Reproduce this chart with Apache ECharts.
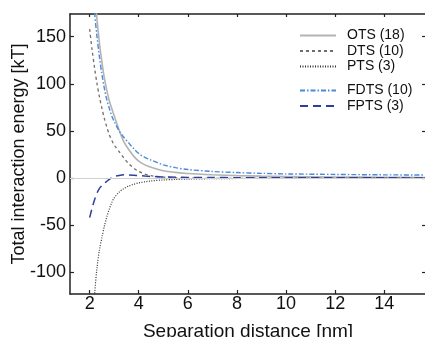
<!DOCTYPE html>
<html>
<head>
<meta charset="utf-8">
<script src="https://cdn.jsdelivr.net/npm/echarts@6/dist/echarts.min.js"></script>
<style>html,body{margin:0;padding:0;background:#fff}#c{width:425px;height:337px}</style>
</head>
<body>
<div id="c"></div>
<script>
var xs   = [2.0, 2.1, 2.2, 2.3, 2.4, 2.5, 2.6, 2.7, 2.8, 2.9, 3.0, 3.2, 3.4, 3.6, 3.8, 4.0, 4.25, 4.5, 5.0, 5.5, 6.0, 7.0, 8.0, 9.0, 10, 12, 14, 16];
var ots  = [null, 250, 200, 168, 143, 123, 106, 93, 82, 74, 66, 51, 38, 30, 23, 18, 14, 11.5, 7.8, 6.0, 4.8, 3.5, 2.6, 2.0, 1.6, 1.1, 0.8, 0.6];
var dts  = [158, 136, 117, 100, 86, 74, 63, 54, 46, 40, 35, 28, 21, 15, 10.5, 7, 4.2, 2.5, 1.0, 0.3, 0, -0.3, -0.3, -0.2, -0.2, -0.1, 0, 0];
var pts  = [-220, -165, -124, -95, -76, -63, -51, -41, -33, -26, -21, -15, -11, -8.5, -6.5, -5.2, -4.0, -3.1, -2.0, -1.5, -1.1, -0.7, -0.5, -0.4, -0.3, -0.2, -0.1, -0.1];
var fdts = [null, 220, 176, 150, 128, 110, 95, 83, 74, 66, 60, 50, 43, 37, 31, 26, 22, 19, 14, 11, 9, 7, 5.8, 5, 4.4, 3.8, 3.4, 3.1];
var fpts = [-42, -32, -23, -16, -11, -8, -5.5, -3.5, -1.5, 0.2, 1.6, 2.8, 3.4, 3.3, 3.0, 2.6, 2.1, 1.7, 1.2, 0.9, 0.7, 0.5, 0.4, 0.35, 0.3, 0.2, 0.2, 0.1];
var names = ['OTS (18)', 'DTS (10)', 'PTS (3)', 'FDTS (10)', 'FPTS (3)'];
var xTicks = [2, 4, 6, 8, 10, 12, 14];
var yTicks = [-100, -50, 0, 50, 100, 150];

function pairs(ys) {
  var out = [];
  for (var i = 0; i < xs.length; i++) if (ys[i] !== null) out.push([xs[i], ys[i]]);
  return out;
}
var FONT = 'Liberation Sans, Arial, Helvetica, sans-serif';
var axisLine = {show: true, onZero: false, lineStyle: {color: '#222', width: 1.5}};
var chart = echarts.init(document.getElementById('c'), null, {renderer: 'canvas'});
function line(name, ys, color, width, type) {
  return {
    name: name, type: 'line', data: pairs(ys), symbol: 'none', smooth: 0.3,
    xAxisIndex: 0, yAxisIndex: 0, clip: true, animation: false,
    lineStyle: {color: color, width: width, type: type}, itemStyle: {color: color}
  };
}
var series = [
  line(names[0], ots, '#b3b3b3', 1.6, 'solid'),
  line(names[1], dts, '#6e6e6e', 1.3, [3, 3]),
  line(names[2], pts, '#333333', 1.2, [1, 1.5]),
  line(names[3], fdts, '#4a8ad8', 1.4, [5, 2, 1.5, 2]),
  line(names[4], fpts, '#2c3f9c', 1.5, [8, 5])
];
series[0].markLine = {
  silent: true, symbol: 'none', label: {show: false}, animation: false,
  lineStyle: {color: '#d0d0d0', width: 1, type: 'solid'},
  data: [{yAxis: 0}]
};
var legendBase = {
  orient: 'vertical', left: 299, padding: 0, itemWidth: 36, itemHeight: 10, itemGap: 0.5,
  selectedMode: false,
  itemStyle: {opacity: 0},
  textStyle: {fontFamily: FONT, fontSize: 14, color: '#111', lineHeight: 15, padding: [0, 0, 0, 6]}
};
chart.setOption({
  animation: false,
  backgroundColor: '#fff',
  grid: {left: 70, right: -1, top: 14, bottom: 43, containLabel: false, outerBoundsMode: 'none'},
  legend: [
    Object.assign({}, legendBase, {top: 28, data: names.slice(0, 3)}),
    Object.assign({}, legendBase, {top: 83, data: names.slice(3)})
  ],
  xAxis: [{
    type: 'value', min: 1.2, max: 15.7, position: 'bottom',
    name: 'Separation distance [nm]', nameLocation: 'middle', nameGap: 28, nameMoveOverlap: false,
    nameTextStyle: {fontFamily: FONT, fontSize: 19, color: '#111'},
    axisLine: axisLine, splitLine: {show: false},
    axisTick: {inside: true, length: 4, customValues: xTicks, lineStyle: {color: '#222', width: 1.2}},
    axisLabel: {customValues: xTicks, fontFamily: FONT, fontSize: 18, color: '#111', margin: 1}
  }, {
    type: 'value', min: 1.2, max: 15.7, position: 'top',
    axisLine: axisLine, splitLine: {show: false},
    axisTick: {inside: true, length: 3, customValues: xTicks, lineStyle: {color: '#222', width: 1.2}},
    axisLabel: {show: false}
  }],
  yAxis: [{
    type: 'value', min: -123, max: 174, position: 'left',
    name: 'Total interaction energy [kT]', nameLocation: 'middle', nameGap: 42, nameRotate: 90, nameMoveOverlap: false,
    nameTextStyle: {fontFamily: FONT, fontSize: 18, color: '#111'},
    axisLine: axisLine, splitLine: {show: false},
    axisTick: {inside: true, length: 4, customValues: yTicks, lineStyle: {color: '#222', width: 1.2}},
    axisLabel: {customValues: yTicks, fontFamily: FONT, fontSize: 18, color: '#111', margin: 4}
  }, {
    type: 'value', min: -123, max: 174, position: 'right',
    axisLine: axisLine, splitLine: {show: false},
    axisTick: {inside: true, length: 4, customValues: yTicks, lineStyle: {color: '#222', width: 1.2}},
    axisLabel: {show: false}
  }],
  series: series
});
</script>
</body>
</html>
